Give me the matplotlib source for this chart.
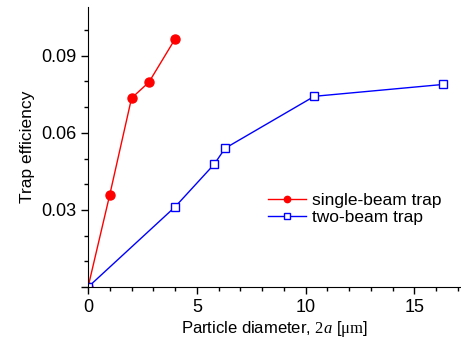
import matplotlib.pyplot as plt
from matplotlib.ticker import MultipleLocator, FuncFormatter

plt.rcParams['font.family'] = ['Liberation Sans', 'DejaVu Sans']
plt.rcParams['mathtext.fontset'] = 'custom'
plt.rcParams['mathtext.rm'] = 'Liberation Serif'
plt.rcParams['mathtext.it'] = 'Liberation Serif:italic'

# single-beam trap
single_x = [0, 1.0, 2.0, 2.8, 4.0]
single_y = [0, 0.036, 0.0735, 0.0797, 0.0965]

# two-beam trap
two_x = [0, 4.0, 5.8, 6.3, 10.4, 16.3]
two_y = [0, 0.0312, 0.0478, 0.0540, 0.0742, 0.0788]

fig = plt.figure(figsize=(4.61, 3.41), dpi=100)
ax = fig.add_axes([0.191, 0.158, 0.807, 0.822])

ax.plot(single_x, single_y, color='#ff0000', lw=1, marker='o', ms=6.5,
        mfc='#ff0000', mec='#ff0000', label='single-beam trap')
ax.plot(two_x, two_y, color='#0000ff', lw=1, marker='s', ms=5.2,
        mfc='white', mec='#0000ff', mew=1, label='two-beam trap')

ax.set_xlim(0, 17.1)
ax.set_ylim(0, 0.109)

ax.xaxis.set_major_locator(MultipleLocator(5))
ax.xaxis.set_minor_locator(MultipleLocator(1))
ax.yaxis.set_major_locator(MultipleLocator(0.03))
ax.yaxis.set_minor_locator(MultipleLocator(0.01))
ax.yaxis.set_major_formatter(FuncFormatter(lambda v, p: '' if abs(v) < 1e-9 else f'{v:.2f}'))

ax.spines['top'].set_visible(False)
ax.spines['right'].set_visible(False)
ax.tick_params(which='major', direction='out', length=5, width=1, labelsize=13)
ax.tick_params(which='minor', direction='out', length=3, width=1)

ax.set_xlabel('Particle diameter, $\\mathrm{2}\\mathit{a}$ [$\\mathrm{μm}$]', fontsize=12, labelpad=2)
ax.set_ylabel('Trap efficiency', fontsize=12.5, labelpad=4)

ax.legend(loc='upper left', bbox_to_anchor=(0.484, 0.335), frameon=False, fontsize=12.5,
          handlelength=2.2, handletextpad=0.3, labelspacing=0.1, borderaxespad=0,
          borderpad=0, markerscale=0.7)

fig.savefig('out.png', dpi=100)
